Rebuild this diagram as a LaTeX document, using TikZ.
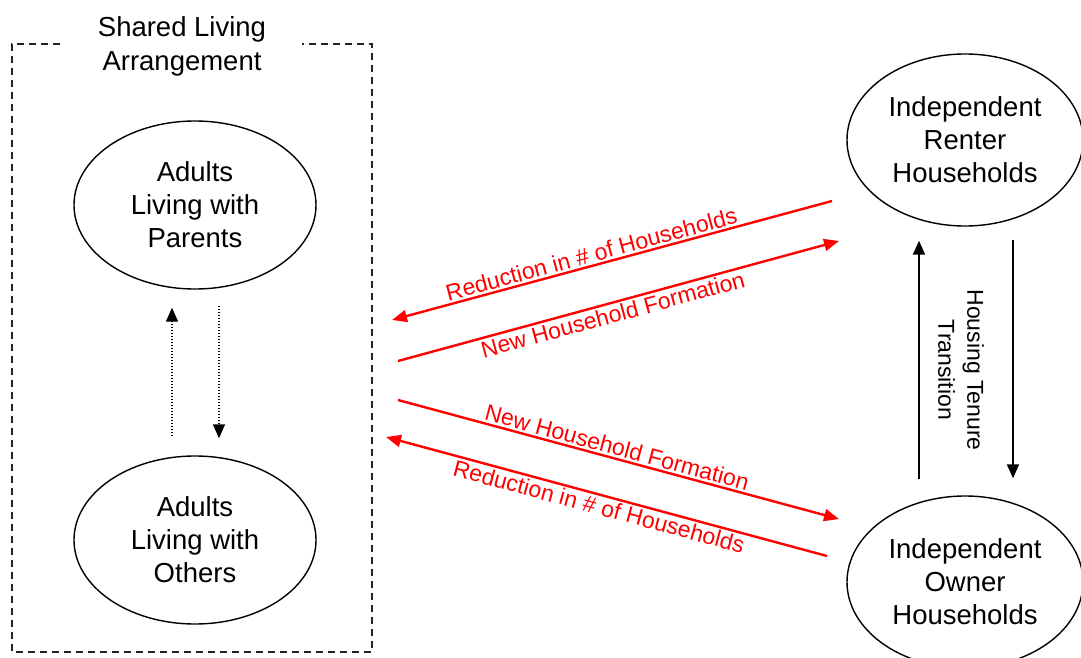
\documentclass[tikz,border=0pt]{standalone}
\usepackage{fontspec}
\setmainfont{Liberation Sans}
\usetikzlibrary{positioning}
\usetikzlibrary{arrows.meta}
\usetikzlibrary{shapes.geometric}
\definecolor{hRed}{HTML}{FF0000}
\definecolor{hGray}{HTML}{222222}

\tikzset{
  state/.style={ellipse, draw, line width=1.4pt, minimum width=242pt, minimum height=168pt,
    inner sep=0pt, align=center, font=\fontsize{27.5}{33}\selectfont},
  flow/.style={draw=hRed, line width=2.4pt, -{Triangle[length=15pt,width=12pt]}},
  flowlabel/.style={text=hRed, sloped, inner sep=2pt, font=\fontsize{23}{28}\selectfont},
  tenure/.style={line width=2pt, -{Triangle[length=14pt,width=12pt]}},
  move/.style={line width=1.5pt, dash pattern=on 1.5pt off 1.5pt, -{Triangle[length=14pt,width=12pt]}},
  group/.style={line width=1.4pt, dash pattern=on 7pt off 5pt, draw=hGray}
}

\begin{document}
\begin{tikzpicture}[x=1pt, y=-1pt]
    \clip (0,0) rectangle (1081,658);

    \node[state] (parents) at (195,205) {Adults\\Living with\\Parents};
    \node[state] (others) at (195,540) {Adults\\Living with\\Others};
    \node[state, minimum width=236pt, minimum height=172pt] (renter) at (965,140) {Independent\\Renter\\Households};
    \node[state, minimum width=236pt, minimum height=172pt] (owner) at (965,582) {Independent\\Owner\\Households};

    \node[align=center, font=\fontsize{27.5}{34}\selectfont] (shared) at (182,46) {Shared Living\\Arrangement};
    \draw[group] (60,44) -- (12,44) -- (12,652) -- (372,652) -- (372,44) -- (302,44);

    \draw[move] ([xshift=-23pt, yshift=19pt]others.north) -- ([xshift=-23pt, yshift=-18pt]parents.south);
    \draw[move] ([xshift=24pt, yshift=-16pt]parents.south) -- ([xshift=24pt, yshift=17pt]others.north);

    \draw[tenure] ([xshift=-46pt, yshift=16pt]owner.north) -- ([xshift=-46pt, yshift=-14pt]renter.south);
    \draw[tenure] ([xshift=48pt, yshift=-13pt]renter.south) -- ([xshift=48pt, yshift=17pt]owner.north);
    \node[rotate=-90, align=center, font=\fontsize{23}{29}\selectfont] (tenurelabel) at (961,370) {Housing Tenure\\Transition};

    \coordinate (r1) at (832,201);
    \coordinate (l1) at (392,320);
    \coordinate (l2) at (398,361);
    \coordinate (r2) at (839,241);
    \coordinate (l3) at (398,400);
    \coordinate (r3) at (839,519);
    \coordinate (r4) at (827,556);
    \coordinate (l4) at (386,437);

    \draw[flow] (r1) -- node[flowlabel, above, pos=0.54] {Reduction in \# of Households} (l1);
    \draw[flow] (l2) -- node[flowlabel, below, pos=0.48] {New Household Formation} (r2);
    \draw[flow] (l3) -- node[flowlabel, above, pos=0.49] {New Household Formation} (r3);
    \draw[flow] (r4) -- node[flowlabel, below, pos=0.51] {Reduction in \# of Households} (l4);
\end{tikzpicture}
\end{document}
